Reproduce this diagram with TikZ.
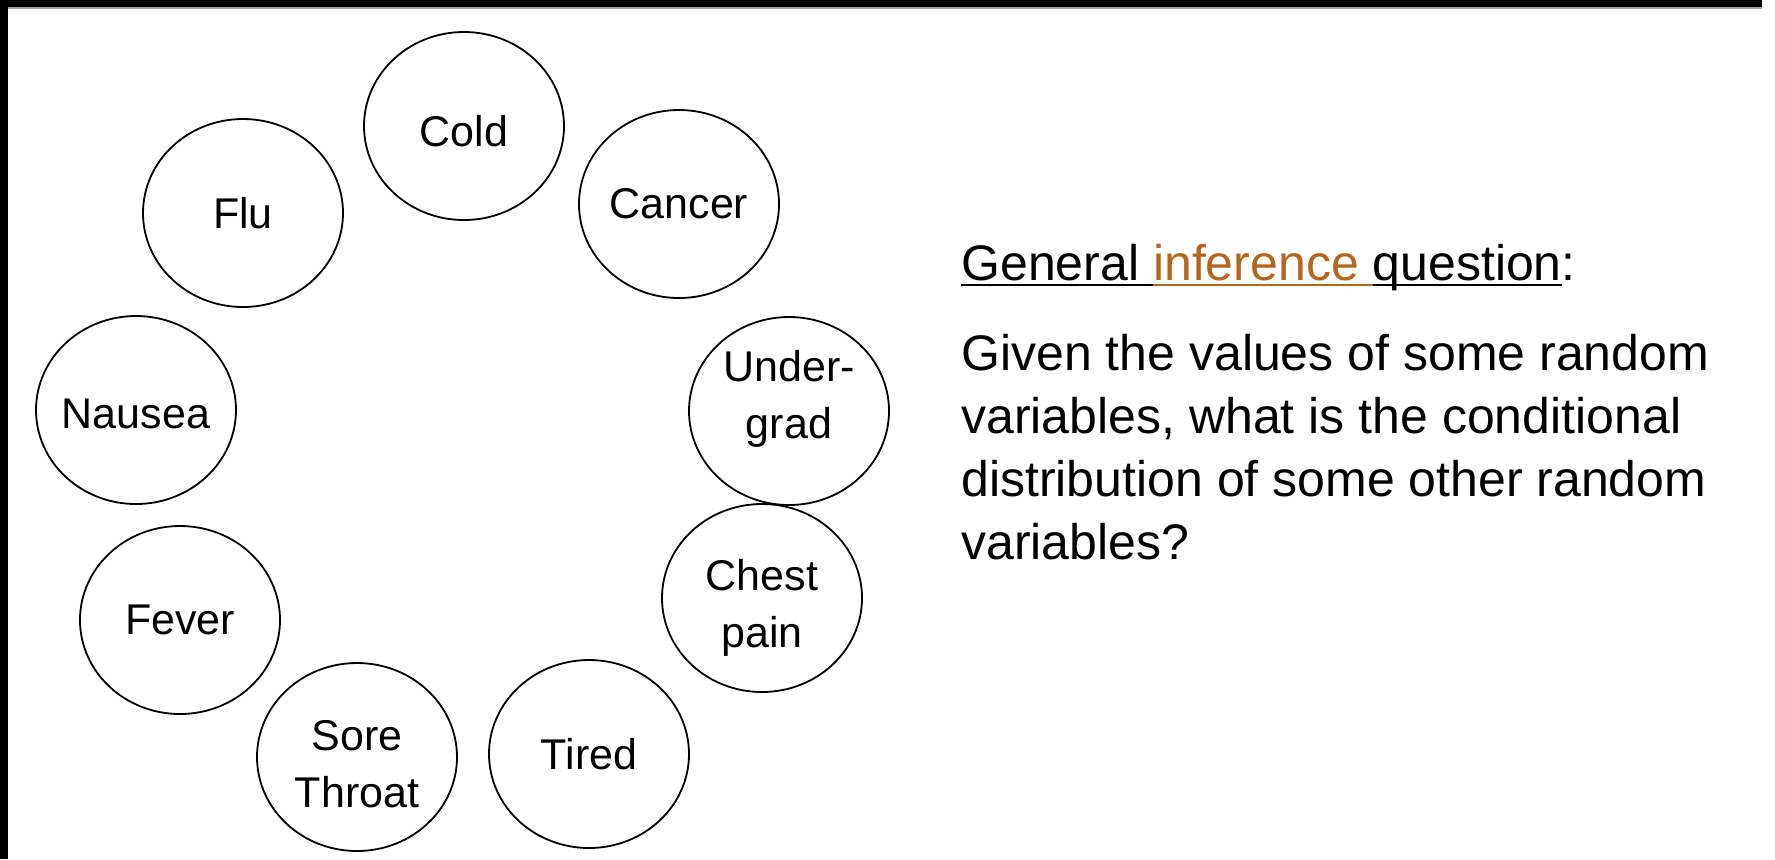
\documentclass[tikz,border=0pt]{standalone}
\usepackage{fontspec}
\setmainfont{Liberation Sans}
\usepackage{xcolor}
\usetikzlibrary{shapes.geometric}
\definecolor{infer}{HTML}{B4661F}
\newsavebox\ulbox
\newcommand\ulbar[1]{\sbox\ulbox{#1}\rlap{\rule[-3.2pt]{\wd\ulbox}{1.2pt}}\usebox\ulbox}

\begin{document}
\begin{tikzpicture}[x=0.5pt,y=-0.5pt,
  var/.style={draw,ellipse,line width=0.9pt,inner sep=0pt,minimum width=100pt,
    minimum height=94pt,align=center,font=\fontsize{21.5}{28.5}\selectfont},
  lbl/.style={align=center,inner sep=0pt,font=\fontsize{21.5}{28.5}\selectfont},
  txt/.style={inner sep=0pt,anchor=base west,align=left,font=\fontsize{25}{31.5}\selectfont}]
\useasboundingbox (0,0) rectangle (1775,859);
% screen frame
\fill[black] (0,0) rectangle (1762,7);
\fill[black!35] (8,7) rectangle (1762,9);
\fill[black] (0,0) rectangle (8,859);

% random variables
\node[var,label={[lbl,yshift=-2.5pt]center:Cold}] (cold) at (464,126) {};
\node[var] (flu) at (243,213) {Flu};
\node[var] (cancer) at (679,204) {Cancer};
\node[var,label={[lbl,yshift=-2pt]center:Nausea}] (nausea) at (136,410) {};
\node[var,label={[lbl,yshift=6pt]center:{Under-\\grad}}] (ugrad) at (789,411) {};
\node[var] (fever) at (180,620) {Fever};
\node[var,label={[lbl,yshift=-5pt]center:{Chest\\pain}}] (chest) at (762,598) {};
\node[var,label={[lbl,yshift=-3.5pt]center:{Sore\\Throat}}] (sore) at (357,757) {};
\node[var] (tired) at (589,754) {Tired};

% question
\node[txt] (head) at (961,280) {\ulbar{General }\textcolor{infer}{\ulbar{inference }}\ulbar{question}:};
\node[txt] (body) at (961,559) {Given the values of some random\\variables, what is the conditional\\distribution of some other random\\variables?};
\end{tikzpicture}
\end{document}
